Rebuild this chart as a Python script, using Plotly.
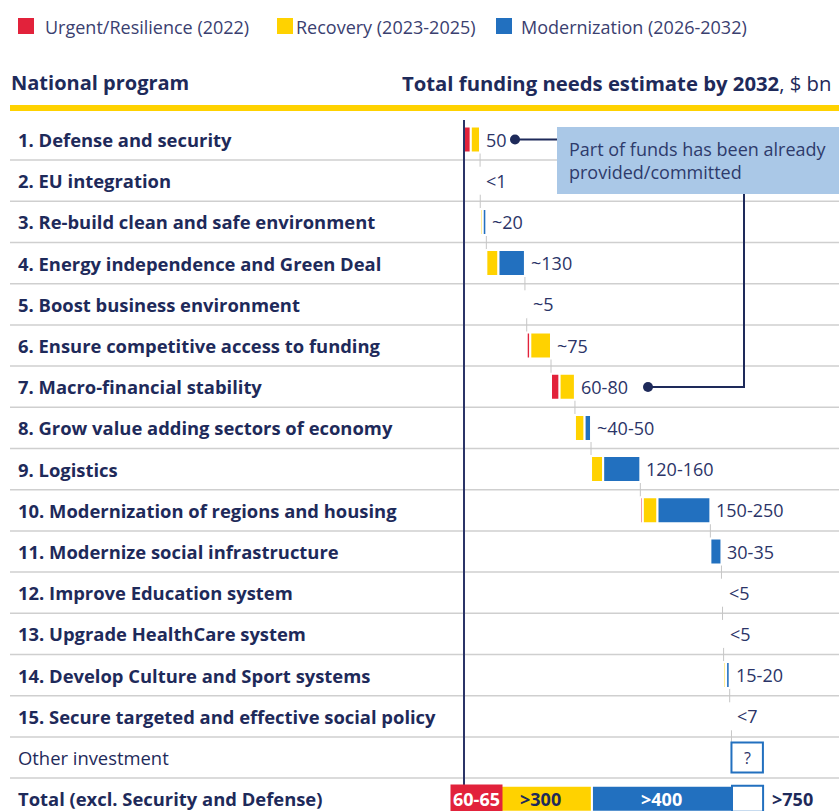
import plotly.graph_objects as go

# ---------------- data ----------------
programs = [
    "1. Defense and security",
    "2. EU integration",
    "3. Re-build clean and safe environment",
    "4. Energy independence and Green Deal",
    "5. Boost business environment",
    "6. Ensure competitive access to funding",
    "7. Macro-financial stability",
    "8. Grow value adding sectors of economy",
    "9. Logistics",
    "10. Modernization of regions and housing",
    "11. Modernize social infrastructure",
    "12. Improve Education system",
    "13. Upgrade HealthCare system",
    "14. Develop Culture and Sport systems",
    "15. Secure targeted and effective social policy",
]
value_labels = ["50", "<1", "~20", "~130", "~5", "~75", "60-80", "~40-50",
                "120-160", "150-250", "30-35", "<5", "<5", "15-20", "<7"]
urgent = [19, 0, 0, 0, 0, 10, 24, 0, 0, 7, 0, 0, 0, 0, 0]
recovery = [26, 0, 7, 34, 0, 58, 43, 27, 34, 41, 0, 0, 0, 7, 0]
modern = [0, 0.5, 10, 74, 5, 0, 0, 18, 104, 148, 31, 3, 3, 10, 5]

other_name = "Other investment"
other_value = 88
other_label = "?"

total_name = "Total (excl. Security and Defense)"
total_urgent, total_recovery, total_modern, total_other = 70, 288, 392, 87
total_labels = ["60-65", ">300", ">400", ">750"]

series_names = ["Urgent/Resilience (2022)", "Recovery (2023-2025)", "Modernization (2026-2032)"]

# ---------------- style ----------------
W, H = 839, 811
RED, YEL, BLU = "#E2223B", "#FFD200", "#2270BF"
NAVY = "#1E2A5A"
TXT = "#2B3467"
FONT = "Open Sans"
FS = 18
FS_LBL = 18.4
X0_PX, SCALE = 464.0, 268.0 / 750.0        # px of zero, px per $bn
ROW0_PX, PITCH = 139.5, 41.2               # px of first row centre, row pitch

def px(x):
    return x / W

def py(y):
    return 1 - y / H

n = len(programs)
other_idx = n
total_idx = n + 1

# cumulative waterfall positions
starts, ends = [], []
cum = 0.0
for u, r, m in zip(urgent, recovery, modern):
    starts.append(cum)
    cum += u + r + m
    ends.append(cum)
other_start = cum
other_end = cum + other_value

ys = list(range(n)) + [total_idx]
red_x = urgent + [total_urgent]
red_base = starts + [0]
yel_x = recovery + [total_recovery]
yel_base = [s + u for s, u in zip(starts, urgent)] + [total_urgent]
blu_x = modern + [total_modern]
blu_base = [s + u + r for s, u, r in zip(starts, urgent, recovery)] + [total_urgent + total_recovery]

fig = go.Figure()
bw = 26 / PITCH
for name, xs, base, col in [(series_names[0], red_x, red_base, RED),
                            (series_names[1], yel_x, yel_base, YEL),
                            (series_names[2], blu_x, blu_base, BLU)]:
    fig.add_trace(go.Bar(
        y=ys, x=xs, base=base, orientation="h", name=name, width=bw,
        marker=dict(color=col, line=dict(color="white", width=2)),
        showlegend=False, hoverinfo="skip"))

fig.add_trace(go.Bar(
    y=[other_idx, total_idx], x=[other_value, total_other],
    base=[other_start, total_urgent + total_recovery + total_modern],
    orientation="h", width=[30 / PITCH, bw],
    marker=dict(color="white", line=dict(color=BLU, width=2)),
    showlegend=False, hoverinfo="skip"))

shapes = []
annotations = []

# legend (manual)
leg_pos = [(18, 43), (277, 294), (496, 519)]
for (sx, tx), name, col in zip(leg_pos, series_names, [RED, YEL, BLU]):
    shapes.append(dict(type="rect", xref="paper", yref="paper",
                       x0=px(sx), x1=px(sx + 16), y0=py(18), y1=py(34),
                       fillcolor=col, line=dict(width=0)))
    annotations.append(dict(xref="paper", yref="paper", x=px(tx), y=py(26.5),
                            xanchor="left", yanchor="middle", showarrow=False,
                            text=name, font=dict(family=FONT, size=FS, color="#3A4070")))

# header
annotations.append(dict(xref="paper", yref="paper", x=px(9), y=py(83),
                        xanchor="left", yanchor="middle", showarrow=False,
                        text="<b>National program</b>",
                        font=dict(family=FONT, size=20, color=NAVY)))
annotations.append(dict(xref="paper", yref="paper", x=px(833), y=py(83),
                        xanchor="right", yanchor="middle", showarrow=False,
                        text="<b>Total funding needs estimate by 2032</b>, $ bn",
                        font=dict(family=FONT, size=20.3, color=NAVY)))
shapes.append(dict(type="line", xref="paper", yref="paper",
                   x0=px(10), x1=1, y0=py(108), y1=py(108),
                   line=dict(color=YEL, width=6)))

# row separators
for i in range(total_idx):
    shapes.append(dict(type="line", xref="paper", yref="y",
                       x0=px(10), x1=1, y0=i + 0.5, y1=i + 0.5,
                       line=dict(color="#CFCFCF", width=1.5), layer="below"))

# waterfall connectors
half = 13 / PITCH
for i, xe in enumerate(ends):
    shapes.append(dict(type="line", xref="x", yref="y",
                       x0=xe, x1=xe, y0=i + half, y1=i + 1 - half,
                       line=dict(color="#C6C6C6", width=1), layer="below"))

# axis line
shapes.append(dict(type="line", xref="x", yref="paper",
                   x0=0, x1=0, y0=py(120), y1=0,
                   line=dict(color="#2B3467", width=2)))

# row labels
for i, lab in enumerate(programs):
    annotations.append(dict(xref="paper", yref="y", x=px(16), y=i,
                            xanchor="left", yanchor="middle", showarrow=False,
                            text="<b>%s</b>" % lab,
                            font=dict(family=FONT, size=FS_LBL, color=NAVY)))
annotations.append(dict(xref="paper", yref="y", x=px(16), y=other_idx,
                        xanchor="left", yanchor="middle", showarrow=False,
                        text=other_name, font=dict(family=FONT, size=FS_LBL, color=NAVY)))
annotations.append(dict(xref="paper", yref="y", x=px(16), y=total_idx,
                        xanchor="left", yanchor="middle", showarrow=False,
                        text="<b>%s</b>" % total_name,
                        font=dict(family=FONT, size=FS_LBL, color=NAVY)))

# value labels
for i, (lab, xe) in enumerate(zip(value_labels, ends)):
    annotations.append(dict(xref="x", yref="y", x=xe, y=i, xshift=4,
                            xanchor="left", yanchor="middle", showarrow=False,
                            text=lab, font=dict(family=FONT, size=FS, color=TXT)))
annotations.append(dict(xref="x", yref="y", x=(other_start + other_end) / 2, y=other_idx,
                        xanchor="center", yanchor="middle", showarrow=False,
                        text=other_label, font=dict(family=FONT, size=16, color=TXT)))

# total labels
annotations.append(dict(xref="x", yref="y", x=total_urgent / 2, y=total_idx,
                        xanchor="center", yanchor="middle", showarrow=False,
                        text="<b>%s</b>" % total_labels[0], bgcolor=RED, borderpad=2,
                        font=dict(family=FONT, size=FS, color="white")))
annotations.append(dict(xref="x", yref="y", x=total_urgent + total_recovery / 2, y=total_idx,
                        xanchor="center", yanchor="middle", showarrow=False,
                        text="<b>%s</b>" % total_labels[1],
                        font=dict(family=FONT, size=FS, color=NAVY)))
annotations.append(dict(xref="x", yref="y", x=total_urgent + total_recovery + total_modern / 2,
                        y=total_idx, xanchor="center", yanchor="middle", showarrow=False,
                        text="<b>%s</b>" % total_labels[2],
                        font=dict(family=FONT, size=FS, color="white")))
annotations.append(dict(xref="x", yref="y",
                        x=total_urgent + total_recovery + total_modern + total_other,
                        y=total_idx, xshift=7, xanchor="left", yanchor="middle", showarrow=False,
                        text="<b>%s</b>" % total_labels[3],
                        font=dict(family=FONT, size=FS, color=NAVY)))

# callout
shapes.append(dict(type="rect", xref="paper", yref="paper",
                   x0=px(557), x1=1.01, y0=py(194), y1=py(127),
                   fillcolor="#AAC8E7", line=dict(width=0)))
annotations.append(dict(xref="paper", yref="paper", x=px(567), y=py(160.5),
                        xanchor="left", yanchor="middle", showarrow=False, align="left",
                        text="Part of funds has been already<br>provided/committed",
                        font=dict(family=FONT, size=FS, color="#2E3B6B")))
shapes.append(dict(type="path", xref="paper", yref="paper",
                   path="M %f,%f L %f,%f" % (px(515), py(139.5), px(557), py(139.5)),
                   line=dict(color=NAVY, width=2)))
shapes.append(dict(type="path", xref="paper", yref="paper",
                   path="M %f,%f L %f,%f L %f,%f" % (px(744), py(194), px(744), py(387),
                                                    px(648), py(387)),
                   line=dict(color=NAVY, width=2)))
for cx, cy in [(515, 139.5), (648, 387)]:
    shapes.append(dict(type="circle", xref="paper", yref="paper",
                       x0=px(cx - 5), x1=px(cx + 5), y0=py(cy + 5), y1=py(cy - 5),
                       fillcolor=NAVY, line=dict(width=0)))

fig.update_layout(
    width=W, height=H,
    margin=dict(l=0, r=0, t=0, b=0),
    paper_bgcolor="white", plot_bgcolor="white",
    barmode="overlay",
    xaxis=dict(range=[-X0_PX / SCALE, (W - X0_PX) / SCALE], visible=False, fixedrange=True),
    yaxis=dict(range=[(H - ROW0_PX) / PITCH, -ROW0_PX / PITCH], visible=False, fixedrange=True),
    shapes=shapes, annotations=annotations,
    showlegend=False,
)

fig.write_html("out.html", config={"displayModeBar": False},
               post_script="document.body.style.margin='0';document.body.style.overflow='hidden';")
